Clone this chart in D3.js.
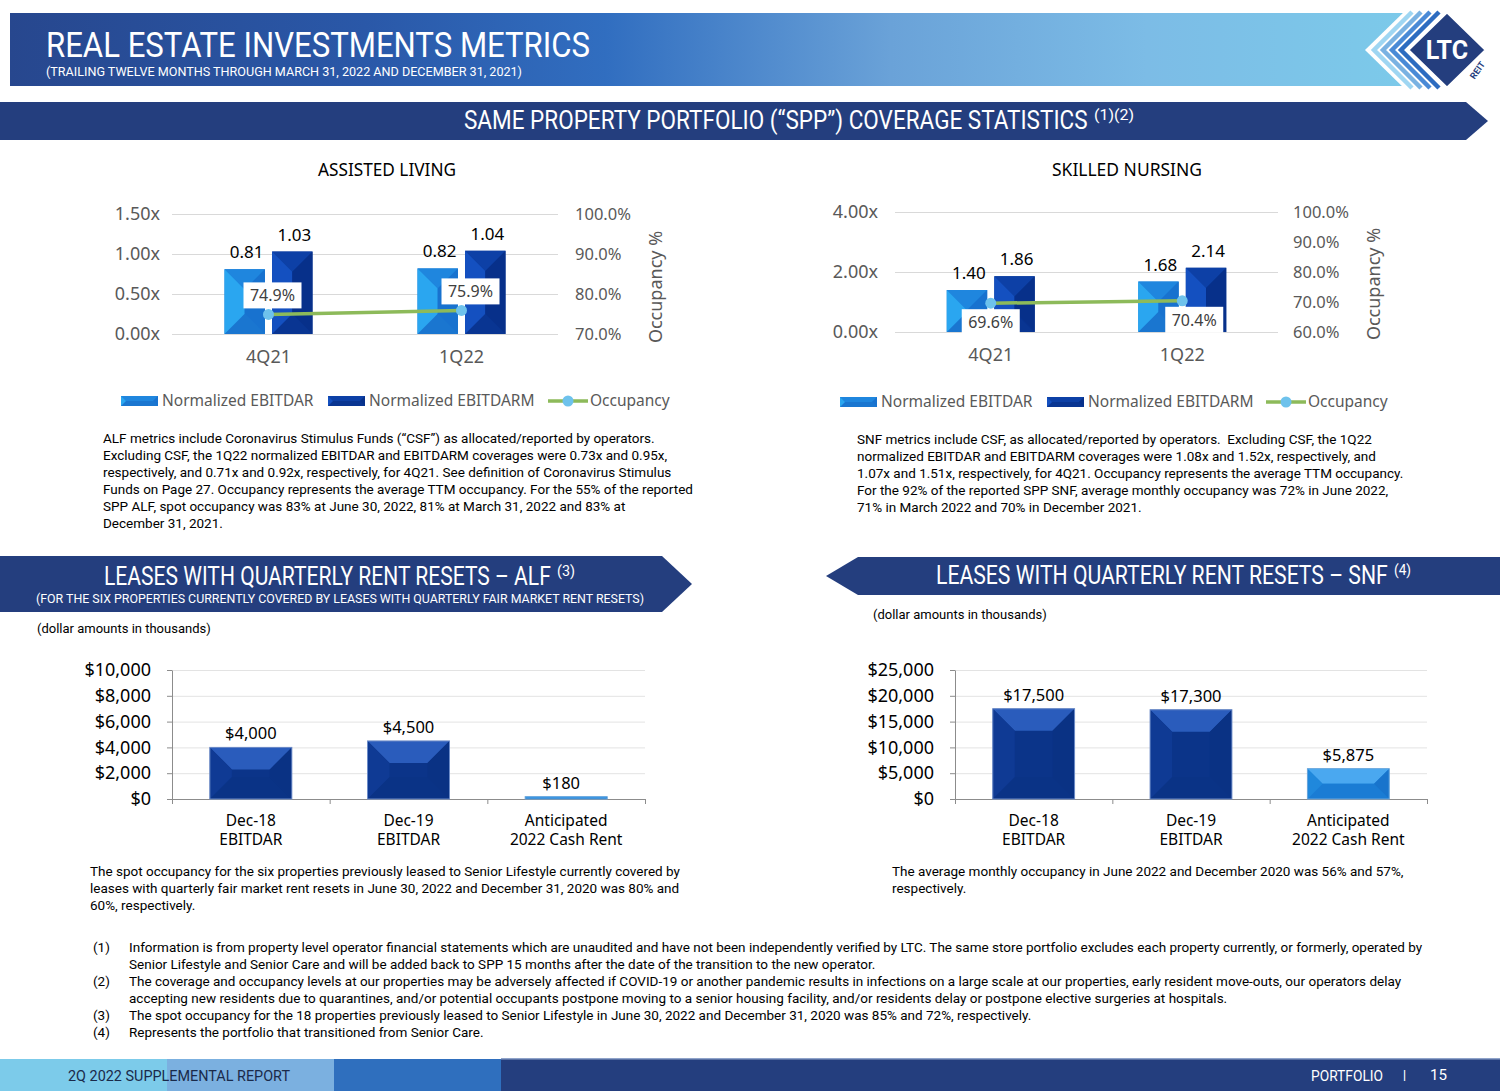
<!DOCTYPE html>
<html>
<head>
<meta charset="utf-8">
<script src="https://cdn.jsdelivr.net/npm/d3@7"></script>
<style>
  body { margin: 0; background: #fff; }
  svg { display: block; }
</style>
</head>
<body>
<script>
// chart values
var coverCats = ["4Q21", "1Q22"];
var alfEbitdar = [0.81, 0.82];
var alfEbitdarm = [1.03, 1.04];
var alfOcc = [74.9, 75.9];
var alfLeftTicks = [0, 0.5, 1.0, 1.5];
var alfRightTicks = [70, 80, 90, 100];

var snfEbitdar = [1.40, 1.68];
var snfEbitdarm = [1.86, 2.14];
var snfOcc = [69.6, 70.4];
var snfLeftTicks = [0, 2, 4];
var snfRightTicks = [60, 70, 80, 90, 100];

var leaseCats = [["Dec-18", "EBITDAR"], ["Dec-19", "EBITDAR"], ["Anticipated", "2022 Cash Rent"]];
var alfLease = [4000, 4500, 180];
var alfLeaseTicks = [0, 2000, 4000, 6000, 8000, 10000];
var snfLease = [17500, 17300, 5875];
var snfLeaseTicks = [0, 5000, 10000, 15000, 20000, 25000];

var legendNames = ["Normalized EBITDAR", "Normalized EBITDARM", "Occupancy"];

var HEAD = "Roboto, 'Liberation Sans', sans-serif";
var CHART = "'Noto Sans', 'DejaVu Sans', sans-serif";
var BODY = "Roboto, 'Liberation Sans', sans-serif";
var NAVY = "#243e7e";

var pal = {
    light: { base: "#1a7cd6", top: "#1f86de", left: "#2aa6f0", right: "#1872cf", bottom: "#1a76d0", stroke: "none" },
    dark: { base: "#0a3898", top: "#0d40a6", left: "#1450c0", right: "#07308a", bottom: "#093592", stroke: "none" },
    navy: { base: "#0b3489", top: "#2a5cbc", left: "#0f3a94", right: "#0a3284", bottom: "#0a3386", stroke: "#6d8cc8" },
    sky: { base: "#1b80d8", top: "#4aa8f0", left: "#2088dc", right: "#1874cc", bottom: "#1a7cd4", stroke: "#6aa6dc" }
};

var svg = d3.select("body").append("svg")
    .attr("width", 1500)
    .attr("height", 1091);

var defs = svg.append("defs");
var hg = defs.append("linearGradient").attr("id", "headGrad");
[["0", "#27478e"], ["0.25", "#2a58a8"], ["0.42", "#316ec0"], ["0.62", "#6aa2d8"], ["0.8", "#7cbce6"], ["1", "#7ccbea"]]
    .forEach(function(s) { hg.append("stop").attr("offset", s[0]).attr("stop-color", s[1]); });

// text helper with forced width
function fitText(g, str, x, y, size, width, opts) {
    opts = opts || {};
    var t = g.append("text")
        .attr("x", x).attr("y", y)
        .attr("font-family", opts.font || HEAD)
        .attr("font-size", size)
        .attr("fill", opts.fill || "#fff")
        .attr("text-anchor", opts.anchor || "start")
        .text(str);
    if (width) t.attr("textLength", width).attr("lengthAdjust", "spacingAndGlyphs");
    return t;
}

// condensed text: natural glyphs squeezed by a horizontal scale
function squeezeText(str, x, y, size, width) {
    var t = svg.append("text").attr("x", 0).attr("y", 0)
        .attr("font-family", HEAD).attr("font-size", size).attr("fill", "#fff").text(str);
    var w = t.node().getComputedTextLength();
    t.attr("transform", "translate(" + x + "," + y + ") scale(" + (width / w) + ",1)");
    return t;
}

function bandTitle(str, sup, x, y, width, supW) {
    squeezeText(str, x, y, 25, width);
    squeezeText(sup, x + width + 6, y - 9, 14, supW);
}

function bevelBar(g, x, y, w, h, p) {
    var d = Math.min(w / 2, h / 2, 22);
    var x1 = x + w, y1 = y + h;
    var b = g.append("g");
    b.append("rect").attr("x", x).attr("y", y).attr("width", w).attr("height", h).attr("fill", p.base);
    var faces = [
        [[x, y], [x1, y], [x1 - d, y + d], [x + d, y + d], p.top],
        [[x, y1], [x1, y1], [x1 - d, y1 - d], [x + d, y1 - d], p.bottom],
        [[x, y], [x + d, y + d], [x + d, y1 - d], [x, y1], p.left],
        [[x1, y], [x1 - d, y + d], [x1 - d, y1 - d], [x1, y1], p.right]
    ];
    faces.forEach(function(f) {
        b.append("polygon").attr("points", f.slice(0, 4).map(function(q) { return q.join(","); }).join(" "))
            .attr("fill", f[4]);
    });
    if (p.stroke !== "none") {
        b.append("rect").attr("x", x).attr("y", y).attr("width", w).attr("height", h)
            .attr("fill", "none").attr("stroke", p.stroke).attr("stroke-width", 1);
    }
}

/* ---------- header ---------- */
svg.append("rect").attr("x", 10).attr("y", 13).attr("width", 1420).attr("height", 73).attr("fill", "url(#headGrad)");
fitText(svg, "REAL ESTATE INVESTMENTS METRICS", 46, 57, 35, 544);
fitText(svg, "(TRAILING TWELVE MONTHS THROUGH MARCH 31, 2022 AND DECEMBER 31, 2021)", 46, 76, 13, 476);

// logo
var logo = svg.append("g");
logo.append("polygon").attr("points", "1408,8 1365,50 1408,92 1500,92 1500,8").attr("fill", "#fff");
var chevColors = ["#9fd6f2", "#7ab2e2", "#4a8ad6", "#2d6cc0"];
chevColors.forEach(function(c, i) {
    var cx = 1374 + i * 9;
    logo.append("polyline")
        .attr("points", (cx + 38) + ",12 " + cx + ",50 " + (cx + 38) + ",88")
        .attr("fill", "none").attr("stroke", c).attr("stroke-width", 4.5);
});
logo.append("polygon").attr("points", "1447,12 1486,50 1447,88 1408,50")
    .attr("fill", NAVY).attr("stroke", "#fff").attr("stroke-width", 2.5);
logo.append("text").attr("x", 1447).attr("y", 59).attr("text-anchor", "middle")
    .attr("font-family", HEAD).attr("font-weight", "bold").attr("font-size", 25).attr("fill", "#fff").text("LTC");
logo.append("text").attr("transform", "translate(1480,72) rotate(-55)").attr("text-anchor", "middle")
    .attr("font-family", HEAD).attr("font-weight", "bold").attr("font-size", 9).attr("fill", NAVY).text("REIT");

/* ---------- section bands ---------- */
svg.append("polygon").attr("points", "0,102 1466,102 1488,121 1466,140 0,140").attr("fill", NAVY);
bandTitle("SAME PROPERTY PORTFOLIO (“SPP”) COVERAGE STATISTICS", "(1)(2)", 464, 129, 624, 40);

svg.append("polygon").attr("points", "0,556 662,556 692,584 662,612 0,612").attr("fill", NAVY);
bandTitle("LEASES WITH QUARTERLY RENT RESETS – ALF", "(3)", 104, 585, 447, 18);
fitText(svg, "(FOR THE SIX PROPERTIES CURRENTLY COVERED BY LEASES WITH QUARTERLY FAIR MARKET RENT RESETS)", 36, 603, 13, 608);

svg.append("polygon").attr("points", "826,576 858,557 1500,557 1500,595 858,595").attr("fill", NAVY);
bandTitle("LEASES WITH QUARTERLY RENT RESETS – SNF", "(4)", 936, 584, 452, 17);

/* ---------- coverage charts ---------- */
function coverage(cfg) {
    var g = svg.append("g");
    var x = d3.scaleBand().domain(coverCats).range([cfg.x0, cfg.x1]);
    var xi = d3.scaleBand().domain(["r", "m"]).range([-44, 44]).paddingInner(0.15);
    var yL = d3.scaleLinear().domain(cfg.leftDomain).range([cfg.yb, cfg.yt]);
    var yR = d3.scaleLinear().domain(cfg.rightDomain).range([cfg.yb, cfg.yt]);

    fitText(g, cfg.title, cfg.titleX, 176, 18, cfg.titleW, { fill: "#000", anchor: "middle", font: CHART });

    // gridlines
    var grid = g.append("g").attr("transform", "translate(" + cfg.x0 + ",0)")
        .call(d3.axisRight(yL).tickValues(cfg.leftTicks).tickSize(cfg.x1 - cfg.x0).tickFormat(""));
    grid.select(".domain").remove();
    grid.selectAll("line").attr("stroke", "#d9d9d9");

    var ax = g.append("g").attr("transform", "translate(" + cfg.x0 + ",0)")
        .call(d3.axisLeft(yL).tickValues(cfg.leftTicks).tickSize(0).tickPadding(cfg.padL)
            .tickFormat(function(d) { return d.toFixed(2) + "x"; }));
    var ar = g.append("g").attr("transform", "translate(" + cfg.x1 + ",0)")
        .call(d3.axisRight(yR).tickValues(cfg.rightTicks).tickSize(0).tickPadding(cfg.padR)
            .tickFormat(function(d) { return d.toFixed(1) + "%"; }));
    var ab = g.append("g").attr("transform", "translate(0," + cfg.yb + ")")
        .call(d3.axisBottom(x).tickSize(0).tickPadding(16));
    [ax, ar, ab].forEach(function(a) {
        a.select(".domain").remove();
        a.selectAll("text").attr("font-family", CHART).attr("fill", "#595959");
    });
    ax.selectAll("text").attr("font-size", 18);
    ar.selectAll("text").attr("font-size", 16.5);
    ab.selectAll("text").attr("font-size", 18);

    g.append("text").attr("transform", "translate(" + cfg.occX + "," + cfg.occY + ") rotate(-90)")
        .attr("text-anchor", "middle").attr("dy", "0.35em")
        .attr("font-family", CHART).attr("font-size", 18).attr("fill", "#595959").text("Occupancy %");

    var series = [["r", cfg.ebitdar, pal.light], ["m", cfg.ebitdarm, pal.dark]];
    series.forEach(function(s) {
        coverCats.forEach(function(c, i) {
            var bx = x(c) + x.bandwidth() / 2 + xi(s[0]);
            var by = yL(s[1][i]);
            bevelBar(g, bx, by, xi.bandwidth(), cfg.yb - by, s[2]);
            g.append("text").attr("x", bx + xi.bandwidth() / 2 + 2).attr("y", by - 11)
                .attr("text-anchor", "middle").attr("font-family", CHART).attr("font-size", 17)
                .attr("fill", "#000").text(s[1][i].toFixed(2));
        });
    });

    var line = d3.line()
        .x(function(d, i) { return x(coverCats[i]) + x.bandwidth() / 2; })
        .y(function(d) { return yR(d); });
    g.append("path").datum(cfg.occ).attr("d", line)
        .attr("fill", "none").attr("stroke", "#8dba5a").attr("stroke-width", 3.5);
    g.selectAll(".pt").data(cfg.occ).enter().append("circle")
        .attr("cx", function(d, i) { return x(coverCats[i]) + x.bandwidth() / 2; })
        .attr("cy", function(d) { return yR(d); })
        .attr("r", 5.5).attr("fill", "#6ec2ec");

    cfg.occ.forEach(function(v, i) {
        var cx = x(coverCats[i]) + x.bandwidth() / 2 + cfg.occDx[i];
        var cy = yR(v) + cfg.occDy;
        g.append("rect").attr("x", cx - 29).attr("y", cy - 13).attr("width", 58).attr("height", 26).attr("fill", "#fff");
        g.append("text").attr("x", cx).attr("y", cy).attr("dy", "0.36em").attr("text-anchor", "middle")
            .attr("font-family", CHART).attr("font-size", 16).attr("fill", "#404040")
            .text(v.toFixed(1) + "%");
    });

    // legend
    var lg = g.append("g").attr("transform", "translate(" + cfg.legX + "," + cfg.legY + ")");
    var offs = cfg.legOffs;
    bevelBar(lg, offs[0], -5, 37, 10, pal.light);
    bevelBar(lg, offs[1], -5, 37, 10, pal.dark);
    lg.append("line").attr("x1", offs[2]).attr("x2", offs[2] + 40).attr("y1", 0).attr("y2", 0)
        .attr("stroke", "#8dba5a").attr("stroke-width", 3.5);
    lg.append("circle").attr("cx", offs[2] + 20).attr("cy", 0).attr("r", 5.5).attr("fill", "#6ec2ec");
    legendNames.forEach(function(n, i) {
        lg.append("text").attr("x", offs[i] + (i === 2 ? 42 : 41)).attr("y", 0).attr("dy", "0.35em")
            .attr("font-family", CHART).attr("font-size", 15.5).attr("fill", "#595959").text(n);
    });
}

coverage({
    title: "ASSISTED LIVING", titleX: 387, titleW: 138,
    x0: 172, x1: 558, yb: 334, yt: 214,
    leftDomain: [0, 1.5], rightDomain: [70, 100],
    leftTicks: alfLeftTicks, rightTicks: alfRightTicks, padL: 12, padR: 17,
    ebitdar: alfEbitdar, ebitdarm: alfEbitdarm, occ: alfOcc,
    occX: 656, occY: 287, occDx: [4, 9], occDy: -19,
    legX: 121, legY: 401, legOffs: [0, 207, 427]
});

coverage({
    title: "SKILLED NURSING", titleX: 1127, titleW: 150,
    x0: 895, x1: 1278, yb: 332, yt: 212,
    leftDomain: [0, 4], rightDomain: [60, 100],
    leftTicks: snfLeftTicks, rightTicks: snfRightTicks, padL: 17, padR: 15,
    ebitdar: snfEbitdar, ebitdarm: snfEbitdarm, occ: snfOcc,
    occX: 1374, occY: 284, occDx: [0, 12], occDy: 19,
    legX: 840, legY: 402, legOffs: [0, 207, 426]
});

/* ---------- lease charts ---------- */
function lease(cfg) {
    var g = svg.append("g");
    var x = d3.scaleBand().domain(d3.range(leaseCats.length)).range([cfg.x0, cfg.x1])
        .paddingInner(0.48).paddingOuter(0.24);
    var y = d3.scaleLinear().domain([0, d3.max(cfg.ticks)]).range([cfg.yb, cfg.yt]);

    g.append("text").attr("x", cfg.noteX).attr("y", cfg.noteY).attr("font-family", BODY)
        .attr("font-size", 13).attr("fill", "#000").text("(dollar amounts in thousands)");

    var grid = g.append("g").attr("transform", "translate(" + cfg.x0 + ",0)")
        .call(d3.axisRight(y).tickValues(cfg.ticks.slice(1)).tickSize(cfg.x1 - cfg.x0).tickFormat(""));
    grid.select(".domain").remove();
    grid.selectAll("line").attr("stroke", "#e3e3e3");

    var ay = g.append("g").attr("transform", "translate(" + cfg.x0 + ",0)")
        .call(d3.axisLeft(y).tickValues(cfg.ticks).tickSize(5).tickPadding(16).tickSizeOuter(0)
            .tickFormat(function(d) { return "$" + d3.format(",")(d); }));
    ay.selectAll("text").attr("font-family", CHART).attr("font-size", 18).attr("fill", "#000");
    ay.selectAll("line, .domain").attr("stroke", "#8c8c8c");

    var bnd = d3.scaleLinear().domain([0, leaseCats.length]).range([cfg.x0, cfg.x1]);
    var ab = g.append("g").attr("transform", "translate(0," + cfg.yb + ")")
        .call(d3.axisBottom(bnd).tickValues(d3.range(leaseCats.length + 1)).tickSize(5).tickSizeOuter(0).tickFormat(""));
    ab.selectAll("line, .domain").attr("stroke", "#8c8c8c");

    cfg.values.forEach(function(v, i) {
        var by = y(v);
        bevelBar(g, x(i), by, x.bandwidth(), Math.max(cfg.yb - by, 2), i === 2 ? pal.sky : pal.navy);
        g.append("text").attr("x", x(i) + x.bandwidth() / 2 - (i === 2 && v < 1000 ? 5 : 0)).attr("y", by - 8)
            .attr("text-anchor", "middle").attr("font-family", CHART).attr("font-size", 16.5)
            .attr("fill", "#000").text("$" + d3.format(",")(v));
        leaseCats[i].forEach(function(l, j) {
            g.append("text").attr("x", x(i) + x.bandwidth() / 2).attr("y", cfg.yb + 27 + j * 19)
                .attr("text-anchor", "middle").attr("font-family", CHART).attr("font-size", 15.5)
                .attr("fill", "#000").text(l);
        });
    });
}

lease({ x0: 172, x1: 645, yb: 799, yt: 670, ticks: alfLeaseTicks, values: alfLease, noteX: 37, noteY: 633 });
lease({ x0: 955, x1: 1427, yb: 799, yt: 670, ticks: snfLeaseTicks, values: snfLease, noteX: 873, noteY: 619 });

/* ---------- paragraphs ---------- */
function para(lines, x, y, lh, maxW) {
    var g = svg.append("g");
    lines.forEach(function(l, i) {
        var t = g.append("text").attr("x", x).attr("y", y + i * lh)
            .attr("font-family", BODY).attr("font-size", 13.5).attr("fill", "#000")
            .style("white-space", "pre").text(l);
        var w = t.node().getComputedTextLength();
        if (w > maxW) t.attr("textLength", maxW).attr("lengthAdjust", "spacingAndGlyphs");
    });
}

para([
    "ALF metrics include Coronavirus Stimulus Funds (“CSF”) as allocated/reported by operators.",
    "Excluding CSF, the 1Q22 normalized EBITDAR and EBITDARM coverages were 0.73x and 0.95x,",
    "respectively, and 0.71x and 0.92x, respectively, for 4Q21. See definition of Coronavirus Stimulus",
    "Funds on Page 27. Occupancy represents the average TTM occupancy. For the 55% of the reported",
    "SPP ALF, spot occupancy was 83% at June 30, 2022, 81% at March 31, 2022 and 83% at",
    "December 31, 2021."
], 103, 443, 17, 592);

para([
    "SNF metrics include CSF, as allocated/reported by operators.  Excluding CSF, the 1Q22",
    "normalized EBITDAR and EBITDARM coverages were 1.08x and 1.52x, respectively, and",
    "1.07x and 1.51x, respectively, for 4Q21. Occupancy represents the average TTM occupancy.",
    "For the 92% of the reported SPP SNF, average monthly occupancy was 72% in June 2022,",
    "71% in March 2022 and 70% in December 2021."
], 857, 444, 17, 553);

para([
    "The spot occupancy for the six properties previously leased to Senior Lifestyle currently covered by",
    "leases with quarterly fair market rent resets in June 30, 2022 and December 31, 2020 was 80% and",
    "60%, respectively."
], 90, 876, 17, 606);

para([
    "The average monthly occupancy in June 2022 and December 2020 was 56% and 57%,",
    "respectively."
], 892, 876, 17, 522);

var notes = [
    ["(1)", "Information is from property level operator financial statements which are unaudited and have not been independently verified by LTC. The same store portfolio excludes each property currently, or formerly, operated by"],
    ["", "Senior Lifestyle and Senior Care and will be added back to SPP 15 months after the date of the transition to the new operator."],
    ["(2)", "The coverage and occupancy levels at our properties may be adversely affected if COVID-19 or another pandemic results in infections on a large scale at our properties, early resident move-outs, our operators delay"],
    ["", "accepting new residents due to quarantines, and/or potential occupants postpone moving to a senior housing facility, and/or residents delay or postpone elective surgeries at hospitals."],
    ["(3)", "The spot occupancy for the 18 properties previously leased to Senior Lifestyle in June 30, 2022 and December 31, 2020 was 85% and 72%, respectively."],
    ["(4)", "Represents the portfolio that transitioned from Senior Care."]
];
para(notes.map(function(n) { return n[0]; }), 93, 952, 17, 40);
para(notes.map(function(n) { return n[1]; }), 129, 952, 17, 1301);

/* ---------- footer ---------- */
var footColors = ["#7ccbea", "#7bb0e0", "#2f6fbe"];
footColors.forEach(function(c, i) {
    svg.append("rect").attr("x", i * 167).attr("y", 1059).attr("width", 167).attr("height", 32).attr("fill", c);
});
svg.append("rect").attr("x", 501).attr("y", 1059).attr("width", 999).attr("height", 32).attr("fill", NAVY);
svg.append("rect").attr("x", 501).attr("y", 1058).attr("width", 999).attr("height", 1.5).attr("fill", "#8fa3c9");
fitText(svg, "2Q 2022 SUPPLEMENTAL REPORT", 68, 1081, 14, 222, { fill: "#1a2a4a" });
fitText(svg, "PORTFOLIO", 1311, 1081, 14, 72);
fitText(svg, "I", 1403, 1081, 14, 3);
fitText(svg, "15", 1430, 1080, 15, 17);
</script>
</body>
</html>
